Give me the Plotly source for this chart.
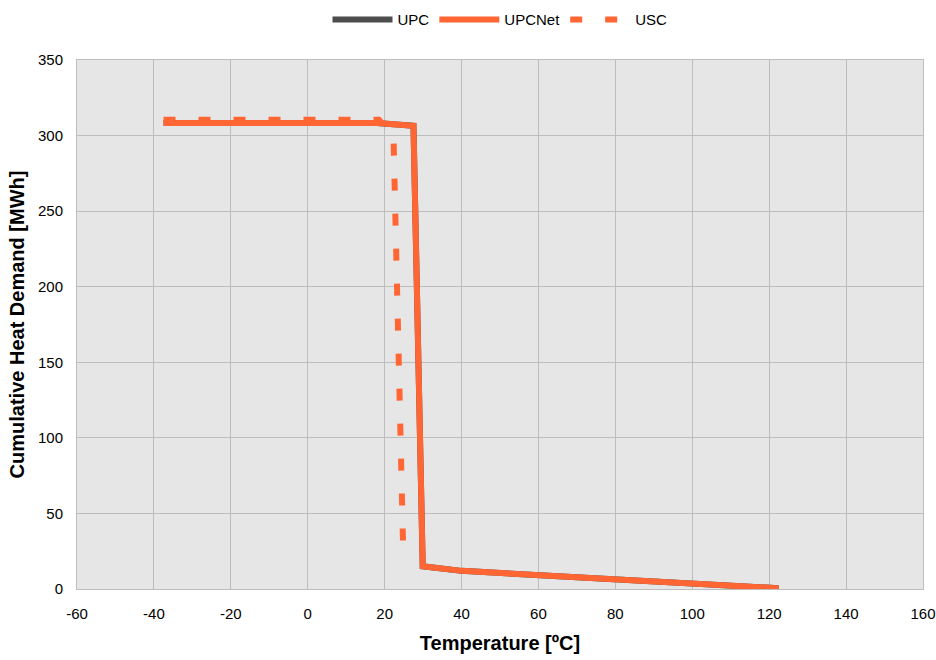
import plotly.graph_objects as go

# Cumulative heat demand curves versus temperature
upc_temp = [-37.5, 18.0, 27.5, 29.9, 40.0, 60.0, 80.0, 100.0, 122.5]
upc_demand = [308.3, 308.3, 306.5, 15.0, 12.0, 9.0, 6.5, 3.5, 0.5]

upcnet_temp = [-37.5, 18.0, 27.5, 29.9, 40.0, 60.0, 80.0, 100.0, 122.5]
upcnet_demand = [308.3, 308.3, 306.5, 15.0, 12.0, 9.0, 6.5, 3.5, 0.5]

usc_temp = [-37.5, 18.5, 22.3, 24.9]
usc_demand = [310.5, 310.5, 300.0, 17.5]

x_ticks = [-60, -40, -20, 0, 20, 40, 60, 80, 100, 120, 140, 160]
x_tick_text = ["-60", "-40", "-20", "0", "20", "40", "60", "80", "100", "120", "140", "160"]
y_ticks = [0, 50, 100, 150, 200, 250, 300, 350]

ORANGE = "#FF6633"
GREY = "#4D4D4D"
FONT = "Liberation Sans, Arial"

fig = go.Figure()
fig.add_trace(go.Scatter(x=upc_temp, y=upc_demand, name="UPC", mode="lines",
                         line=dict(color=GREY, width=6)))
fig.add_trace(go.Scatter(x=upcnet_temp, y=upcnet_demand, name="UPCNet", mode="lines",
                         line=dict(color=ORANGE, width=6)))
fig.add_trace(go.Scatter(x=usc_temp, y=usc_demand, name="USC", mode="lines",
                         line=dict(color=ORANGE, width=6, dash="12px,23px")))

axis_common = dict(
    showgrid=True, gridcolor="#BDBDBD", gridwidth=1, automargin=False,
    zeroline=False, showline=True, linecolor="#BDBDBD", linewidth=1, mirror=True,
    ticks="", tickfont=dict(family=FONT, size=15, color="black"),
)

fig.update_layout(
    width=936, height=660,
    margin=dict(l=77, r=13, t=60, b=71),
    paper_bgcolor="white", plot_bgcolor="#E6E6E6",
    font=dict(family=FONT, size=15, color="black"),
    showlegend=True,
    legend=dict(orientation="h", x=0.5, xanchor="center", y=0.995, yanchor="top",
                yref="container", font=dict(size=15), itemwidth=60,
                bgcolor="rgba(0,0,0,0)", tracegroupgap=0),
    xaxis=dict(range=[-60, 160], tickvals=x_ticks, ticktext=x_tick_text,
               ticklabelstandoff=11,
               title=dict(text="<b>Temperature [ºC]</b>", font=dict(size=20), standoff=14),
               **axis_common),
    yaxis=dict(range=[0, 350], tickvals=y_ticks, ticklabelstandoff=10,
               title=dict(text="<b>Cumulative Heat Demand [MWh]</b>", font=dict(size=20), standoff=7),
               **axis_common),
)

fig.write_html("out.html")
